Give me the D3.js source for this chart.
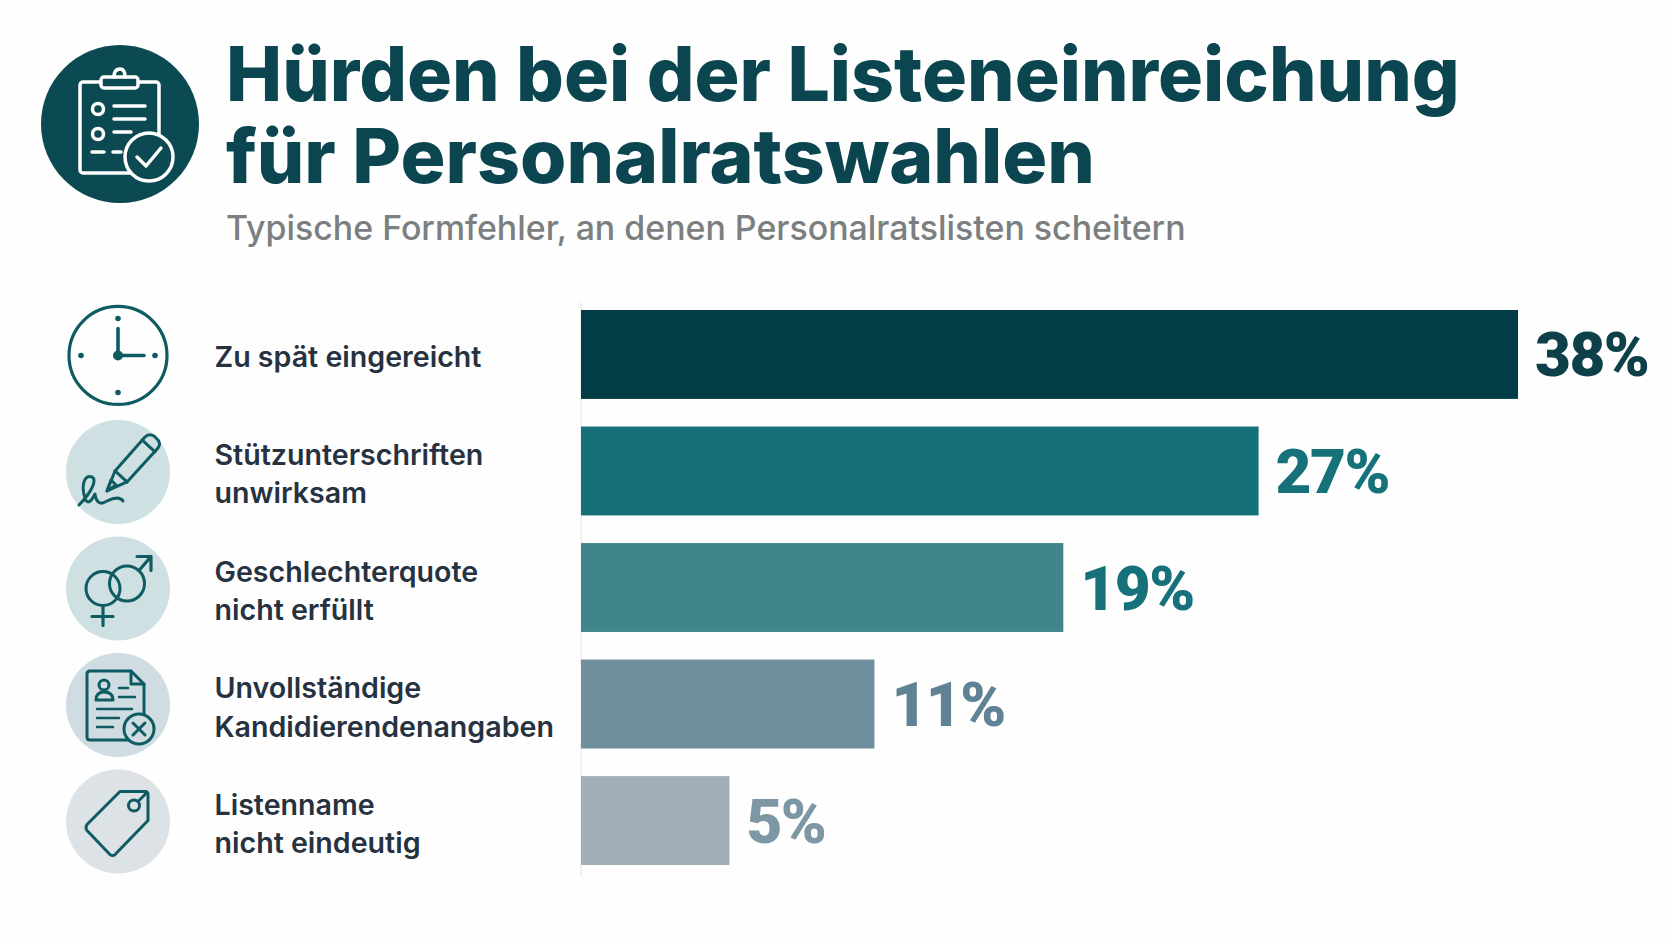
<!DOCTYPE html>
<html lang="de">
<head>
<meta charset="utf-8">
<title>Hürden bei der Listeneinreichung</title>
<script src="https://cdn.jsdelivr.net/npm/d3@7/dist/d3.min.js"></script>
<style>
html,body{margin:0;padding:0;background:#fefefe}
svg{display:block}
text{font-family:Inter,"Noto Sans",sans-serif}
</style>
</head>
<body>
<svg id="chart" width="1672" height="941" role="img" aria-label="Hürden bei der Listeneinreichung für Personalratswahlen"></svg>
<script>
// ── DATEN ─────────────────────────────────────────────────────────────
var titleLines=["Hürden bei der Listeneinreichung","für Personalratswahlen"];
var subtitle="Typische Formfehler, an denen Personalratslisten scheitern";
var categories=["Zu spät eingereicht","Stützunterschriften\nunwirksam","Geschlechterquote\nnicht erfüllt","Unvollständige\nKandidierendenangaben","Listenname\nnicht eindeutig"];
var valueLabels=["38%","27%","19%","11%","5%"];
// Länge der Balken (die kurzen sind länger als ihre Beschriftung)
var barValues=[38,27.48,19.56,11.9,6.02];
var iconNames=["clock","pen","gender","doc","tag"];

// ── FARBEN ────────────────────────────────────────────────────────────
var BAR_COLORS=["#023c46","#16707a","#40858c","#6f8e9e","#a0aeb8"];
var VALUE_COLORS=["#0d4049","#17717a","#17717a","#5f8394","#7e97a5"];
var ICON_BG=["none","#cfe0e3","#cfe0e3","#cfdce2","#dde2e6"];
var INK="#0f5b62";

// ── ICONS (lokale Koordinaten um den Kreismittelpunkt) ────────────────
var ICONS={
  clock:function(g){
    g.append("circle").attr("r",49).attr("stroke-width",3.2);
    [[0,-37],[37,0],[0,37],[-37,0]].forEach(function(p){
      g.append("circle").attr("cx",p[0]).attr("cy",p[1]).attr("r",2.8).attr("fill",INK).attr("stroke","none");
    });
    g.append("path").attr("d","M0,-27V0H26").attr("stroke-width",3.6);
    g.append("circle").attr("r",3.5).attr("fill",INK);
  },
  pen:function(g){
    g.append("path").attr("d","M-11,19L-3,-1L27,-35Q31,-39 36,-36L40,-32Q43,-28 40,-24L9,10Z");
    g.append("path").attr("d","M-3,-1L9,10M24,-32L37,-20M-11,19L-7,8L-2,13Z");
    g.append("path").attr("d","M-39,33C-28,22 -20,8 -26,5C-34,2 -37,14 -33,26C-31,33 -27,30 -23,22C-22,30 -18,33 -13,30C-9,28 -6,26 0,26Q4,27 5,29");
  },
  gender:function(g){
    g.append("circle").attr("cx",-15).attr("cy",0).attr("r",17);
    g.append("circle").attr("cx",9).attr("cy",-5).attr("r",17.5);
    g.append("path").attr("d","M-15,17V37M-26,28H-5M21,-18L33,-32M19,-32H33V-18").attr("stroke-width",3.2);
  },
  doc:function(g,bg){
    g.append("path").attr("d","M-31,-31Q-31,-34 -28,-34H13L26,-21V32Q26,35 23,35H-28Q-31,35 -31,32Z");
    g.append("path").attr("d","M13,-34V-21H26");
    g.append("circle").attr("cx",-14).attr("cy",-20).attr("r",5);
    g.append("path").attr("d","M-22,-5Q-22,-13 -14,-13Q-5,-13 -5,-5Z");
    g.append("path").attr("d","M1,-17H10M1,-8H17M-21,4H14M-21,13H1M-21,22H-5").attr("stroke-width",2.5);
    g.append("circle").attr("cx",21).attr("cy",24).attr("r",15).attr("fill",bg);
    g.append("path").attr("d","M15,18L27,30M27,18L15,30");
  },
  tag:function(g){
    g.append("path").attr("d","M2,-30H27Q30,-30 30,-27V-1L-3,33Q-5.5,35 -8,33L-31,9Q-33,6 -31,3Z");
    g.append("circle").attr("cx",16).attr("cy",-16).attr("r",5.5);
    g.append("path").attr("d","M20,-20L28,-28");
  }
};

function headerIcon(g){
  var bg="#0b4a53";
  g.append("circle").attr("r",79).attr("fill",bg);
  var s=g.append("g").attr("fill","none").attr("stroke","#fff").attr("stroke-width",3.5)
    .attr("stroke-linecap","round").attr("stroke-linejoin","round");
  s.append("rect").attr("x",-40).attr("y",-42).attr("width",79).attr("height",91).attr("rx",3);
  s.append("rect").attr("x",-19).attr("y",-47).attr("width",37).attr("height",11).attr("rx",3).attr("fill",bg);
  s.append("path").attr("d","M-6,-47 Q-6,-55 0,-55 Q5,-55 5,-47");
  s.append("circle").attr("cx",-22).attr("cy",-15).attr("r",5.5);
  s.append("circle").attr("cx",-22).attr("cy",10).attr("r",5.5);
  s.append("path").attr("d","M-6,-18H25M-6,-5H25M-6,8H11M-28,28H-16M-7,28H1");
  s.append("circle").attr("cx",29).attr("cy",33).attr("r",24).attr("fill",bg);
  s.append("path").attr("d","M17,33L26,42L41,24");
}

var svg=d3.select("#chart");

// ── SKALEN ────────────────────────────────────────────────────────────
var x=d3.scaleLinear().domain([0,38]).range([581,1518]);
var y=d3.scaleBand().domain(categories).range([310,865]).paddingInner(0.237);
var barColor=d3.scaleOrdinal().domain(categories).range(BAR_COLORS);
var valueColor=d3.scaleOrdinal().domain(categories).range(VALUE_COLORS);
var iconBg=d3.scaleOrdinal().domain(categories).range(ICON_BG);

// ── KOPF ──────────────────────────────────────────────────────────────
svg.append("g").attr("transform","translate(120,124)").call(headerIcon);

svg.selectAll("text.title").data(titleLines).enter().append("text")
  .attr("class","title")
  .attr("x",226)
  .attr("y",function(d,i){return 101+i*82;})
  .attr("font-size",75)
  .attr("font-weight",800)
  .attr("fill","#0b4650")
  .text(function(d){return d;});

svg.append("text")
  .attr("x",226).attr("y",240)
  .attr("font-size",33.9)
  .attr("font-weight",500)
  .attr("fill","#7b7f80")
  .text(subtitle);

// ── ACHSE UND BALKEN ──────────────────────────────────────────────────
svg.append("line")
  .attr("x1",x(0)).attr("x2",x(0))
  .attr("y1",y.range()[0]-8).attr("y2",y.range()[1]+12)
  .attr("stroke","#ececec").attr("stroke-width",1.5);

svg.selectAll("rect.bar").data(categories).enter().append("rect")
  .attr("class","bar")
  .attr("x",x(0))
  .attr("y",function(d){return y(d);})
  .attr("width",function(d,i){return x(barValues[i])-x(0);})
  .attr("height",y.bandwidth())
  .attr("fill",function(d){return barColor(d);});

svg.selectAll("text.value").data(categories).enter().append("text")
  .attr("class","value")
  .attr("x",function(d,i){return x(barValues[i])+17;})
  .attr("y",function(d){return y(d)+y.bandwidth()/2+22;})
  .style("font-family","Roboto,Inter,sans-serif")
  .attr("font-size",62)
  .attr("font-weight",900)
  .attr("letter-spacing",-1.5)
  .attr("fill",function(d){return valueColor(d);})
  .text(function(d,i){return valueLabels[i];});

// ── KATEGORIE-TEXTE ───────────────────────────────────────────────────
svg.selectAll("text.cat").data(categories).enter().append("text")
  .attr("class","cat")
  .attr("font-size",28.6)
  .attr("font-weight",600)
  .attr("fill","#26323f")
  .each(function(d){
    var lines=d.split("\n"),cy=y(d)+y.bandwidth()/2;
    var start=cy+13-(lines.length-1)*19;
    d3.select(this).selectAll("tspan").data(lines).enter().append("tspan")
      .attr("x",214.5)
      .attr("y",function(l,i){return start+i*38.5;})
      .text(function(l){return l;});
  });

// ── ICONS ─────────────────────────────────────────────────────────────
svg.selectAll("g.icon").data(categories).enter().append("g")
  .attr("class","icon")
  .attr("transform",function(d){return "translate(118,"+(y(d)+y.bandwidth()/2+1)+")";})
  .each(function(d,i){
    var g=d3.select(this);
    if(iconBg(d)!=="none")g.append("circle").attr("r",52).attr("fill",iconBg(d));
    var ink=g.append("g").attr("fill","none").attr("stroke",INK).attr("stroke-width",3)
      .attr("stroke-linecap","round").attr("stroke-linejoin","round");
    ICONS[iconNames[i]](ink,iconBg(d));
  });
</script>
</body>
</html>
